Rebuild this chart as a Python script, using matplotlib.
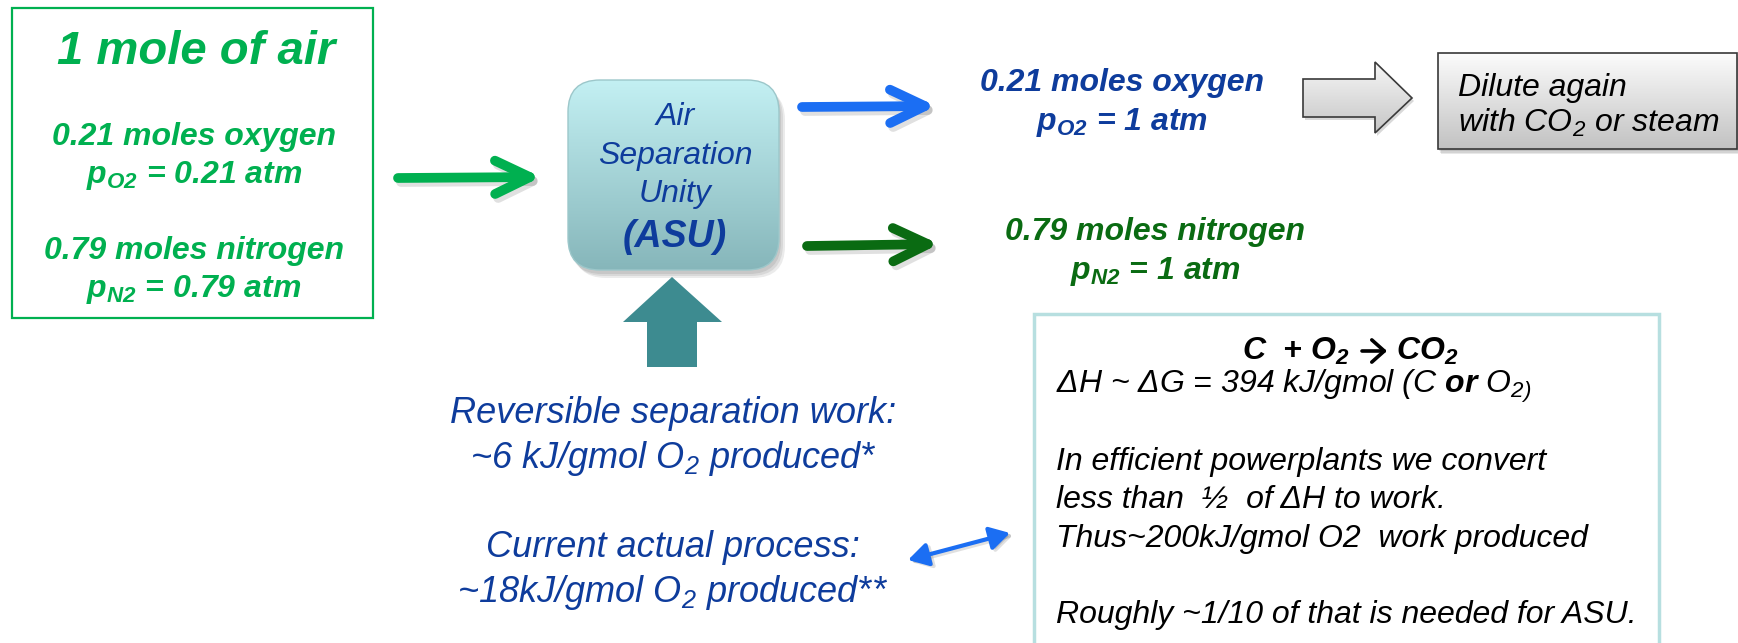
import numpy as np
import matplotlib.pyplot as plt
from matplotlib.patches import Rectangle, FancyBboxPatch, FancyArrowPatch, Polygon
from matplotlib.colors import LinearSegmentedColormap

# Schrift: Liberation Sans (Arial-kompatibel), kursiv wie im Original
plt.rcParams['font.family'] = ['Liberation Sans', 'DejaVu Sans']
plt.rcParams['mathtext.fontset'] = 'custom'
plt.rcParams['mathtext.rm'] = 'Liberation Sans:italic'
plt.rcParams['mathtext.it'] = 'Liberation Sans:italic'
plt.rcParams['mathtext.bf'] = 'Liberation Sans:italic:bold'

# Texte des Schemas
air_title = "1 mole of air"
air_lines = ["0.21 moles oxygen", r"p$_{\mathbf{O2}}$ = 0.21 atm",
             "0.79 moles nitrogen", r"p$_{\mathbf{N2}}$ = 0.79 atm"]
asu_lines = ["Air", "Separation", "Unity"]
asu_short = "(ASU)"
oxygen_lines = ["0.21 moles oxygen", r"p$_{\mathbf{O2}}$ = 1 atm"]
nitrogen_lines = ["0.79 moles nitrogen", r"p$_{\mathbf{N2}}$ = 1 atm"]
dilute_lines = ["Dilute again", r"with CO$_2$ or steam"]
work_lines = ["Reversible separation work:", r"~6 kJ/gmol O$_2$ produced*",
              "Current actual process:", r"~18kJ/gmol O$_2$ produced**"]
reactants = r"C  + O$_{\mathbf{2}}$"
product = r"CO$_{\mathbf{2}}$"
note_lines = [r"ΔH ~ ΔG = 394 kJ/gmol (C $\mathbf{or}$ O$_{2)}$",
              "In efficient powerplants we convert",
              "less than  ½  of ΔH to work.",
              "Thus~200kJ/gmol O2  work produced",
              "Roughly ~1/10 of that is needed for ASU."]

# Farben
green = '#00b050'
navy = '#0e3c9c'
blue_arrow = '#1b6ef3'
dark_green = '#0a6b12'
teal = '#3d8b90'

fig = plt.figure(figsize=(17.38, 6.43), dpi=100)
ax = fig.add_axes([0, 0, 1, 1])


def gradient(x0, y0, x1, y1, top, bottom, clip, z):
    cmap = LinearSegmentedColormap.from_list('g', [top, bottom])
    grad = np.linspace(0, 1, 256).reshape(-1, 1)
    im = ax.imshow(grad, cmap=cmap, extent=(x0, x1, y1, y0), aspect='auto',
                   zorder=z, interpolation='bicubic')
    im.set_clip_path(clip)


def put(x, y, s, size, color, weight='normal', ha='center'):
    ax.text(x, y, s, fontsize=size, color=color, fontweight=weight,
            fontstyle='italic', ha=ha, va='baseline', zorder=10)


def arrow(p0, p1, color, z=5):
    style = '->,head_length=0.5,head_width=0.24'
    # Schatten
    ax.add_patch(FancyArrowPatch((p0[0] + 3, p0[1] + 4), (p1[0] + 3, p1[1] + 4),
                                 arrowstyle=style, mutation_scale=50, lw=7,
                                 color='black', alpha=0.12, shrinkA=0, shrinkB=0,
                                 capstyle='round', joinstyle='round', zorder=z - 1))
    ax.add_patch(FancyArrowPatch(p0, p1, arrowstyle=style, mutation_scale=50, lw=7,
                                 color=color, shrinkA=0, shrinkB=0,
                                 capstyle='round', joinstyle='round', zorder=z))


# linker Kasten: Luft
ax.add_patch(Rectangle((12, 8), 361, 310, fill=False, edgecolor=green, lw=1.6))
put(196, 64, air_title, 34, green, 'bold')
for yb, s in zip([145, 183, 259, 297], air_lines):
    put(194, yb, s, 23, green, 'bold')

# Pfeil Luft -> ASU
arrow((398, 178), (541, 177), green)

# ASU-Block mit Farbverlauf und Schatten
for k in range(3):
    ax.add_patch(FancyBboxPatch((568 + 2 + k * 2, 80 + 4 + k * 2), 211, 190,
                                boxstyle='round,pad=0,rounding_size=32',
                                facecolor='black', edgecolor='none', alpha=0.08, zorder=2))
asu = FancyBboxPatch((568, 80), 211, 190, boxstyle='round,pad=0,rounding_size=32',
                     facecolor='none', edgecolor='#9cc7ca', lw=1.0, zorder=4)
ax.add_patch(asu)
gradient(568, 80, 779, 270, '#c3f0f3', '#86b6ba', asu, 3)
for yb, s in zip([125, 164, 202], asu_lines):
    put(675, yb, s, 23, navy)
put(675, 247, asu_short, 27, navy, 'bold')

# Arbeitspfeil nach oben
ax.add_patch(Polygon([(647, 367), (647, 322), (623, 322), (672, 277),
                      (722, 322), (697, 322), (697, 367)],
                     closed=True, facecolor=teal, edgecolor='none', zorder=5))

# Produktpfeile
arrow((802, 107), (936, 106), blue_arrow)
arrow((807, 246), (939, 244), dark_green)

for yb, s in zip([91, 130], oxygen_lines):
    put(1122, yb, s, 23, navy, 'bold')
for yb, s in zip([240, 279], nitrogen_lines):
    put(1155, yb, s, 23, dark_green, 'bold')

# grauer Blockpfeil
pts = [(1303, 79), (1375, 79), (1375, 62), (1412, 98), (1375, 133),
       (1375, 117), (1303, 117)]
ax.add_patch(Polygon([(x + 2, y + 3) for x, y in pts], closed=True,
                     facecolor='black', edgecolor='none', alpha=0.15, zorder=2))
garrow = Polygon(pts, closed=True, facecolor='none', edgecolor='#3a3a3a',
                 lw=1.2, zorder=4)
ax.add_patch(garrow)
gradient(1303, 62, 1412, 133, '#f6f6f6', '#c6c6c6', garrow, 3)

# Kasten "Dilute again"
for k in range(3):
    ax.add_patch(Rectangle((1438 + 1 + k, 53 + 2 + k * 1.5), 299, 96,
                           facecolor='black', edgecolor='none', alpha=0.09, zorder=2))
dbox = Rectangle((1438, 53), 299, 96, facecolor='none', edgecolor='#383838',
                 lw=1.2, zorder=4)
ax.add_patch(dbox)
gradient(1438, 53, 1737, 149, '#fcfcfc', '#c2c2c2', dbox, 3)
for yb, s in zip([96, 132], dilute_lines):
    put(1458, yb, s, 23, 'black', ha='left')

# Arbeitsaufwand
for yb, s in zip([423, 468, 557, 602], work_lines):
    put(673, yb, s, 26, navy)

# Doppelpfeil
ax.add_patch(FancyArrowPatch((911, 562), (1013, 535),
                             arrowstyle='<|-|>,head_length=0.6,head_width=0.35',
                             mutation_scale=20, lw=3, color='black', alpha=0.12,
                             shrinkA=0, shrinkB=0, zorder=4))
ax.add_patch(FancyArrowPatch((908, 560), (1010, 533),
                             arrowstyle='<|-|>,head_length=0.6,head_width=0.35',
                             mutation_scale=20, lw=3, color=blue_arrow,
                             shrinkA=0, shrinkB=0, zorder=5))

# rechter Kasten mit Energiebilanz
ax.add_patch(Rectangle((1034, 314), 625, 345, facecolor='white',
                       edgecolor='#b7dfe0', lw=2.5, zorder=3))
put(1350, 360, reactants, 23, 'black', 'bold', ha='right')
ax.add_patch(FancyArrowPatch((1362, 351), (1387, 351),
                             arrowstyle='->,head_length=0.45,head_width=0.4',
                             mutation_scale=20, lw=2.6, color='black',
                             shrinkA=0, shrinkB=0, zorder=10))
put(1396, 360, product, 23, 'black', 'bold', ha='left')
for yb, s in zip([393, 470, 508, 547, 623], note_lines):
    put(1056, yb, s, 23, 'black', ha='left')

ax.set_xlim(0, 1738)
ax.set_ylim(643, 0)
ax.axis('off')

plt.savefig('out.png', dpi=100)
